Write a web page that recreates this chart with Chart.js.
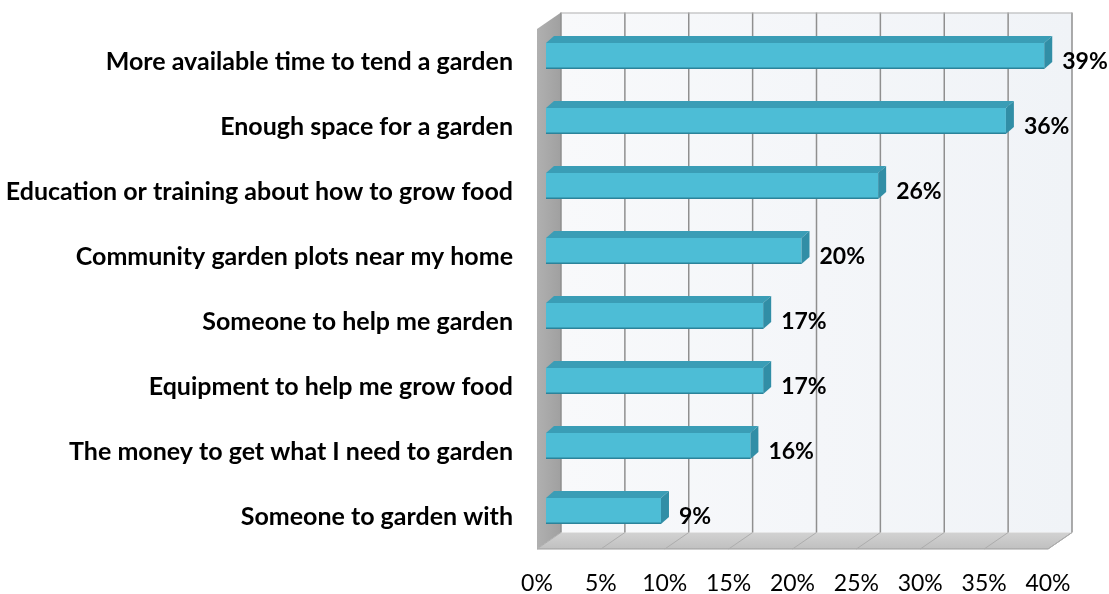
<!DOCTYPE html>
<html>
<head>
<meta charset="utf-8">
<script src="https://cdn.jsdelivr.net/npm/chart.js@4/dist/chart.umd.min.js"></script>
<style>
  html, body { margin: 0; padding: 0; background: #ffffff; }
  #wrap { width: 1109px; height: 594px; position: relative; }
</style>
</head>
<body>
<div id="wrap"><canvas id="chart"></canvas></div>
<script>
// What would help people grow their own food (share of respondents)
const categories = [
  "More available time to tend a garden",
  "Enough space for a garden",
  "Education or training about how to grow food",
  "Community garden plots near my home",
  "Someone to help me garden",
  "Equipment to help me grow food",
  "The money to get what I need to garden",
  "Someone to garden with"
];
const shares = [39, 36, 26, 20, 17, 17, 16, 9];
const axisMin = 0;
const axisMax = 40;
const axisStep = 5;

// 3D look: offsets for the back wall, the bar plane and the bar depth
const WALL_DEPTH = { x: 24, y: -16.5 };
const BAR_SHIFT = { x: 9, y: -5.5 };
const BAR_DEPTH = { x: 8, y: -7 };

const COLORS = {
  front: '#4dbdd6',
  top: '#3a9db6',
  side: '#318ea6',
  edge: '#2b839a'
};

const box3d = {
  id: 'box3d',
  beforeDatasetsDraw(chart) {
    const { ctx, chartArea: a, scales: { x } } = chart;
    const L = a.left, R = a.right, T = a.top, B = a.bottom;
    const dx = WALL_DEPTH.x, dy = WALL_DEPTH.y;
    ctx.save();

    // back wall
    let g = ctx.createLinearGradient(L + dx, 0, R + dx, 0);
    g.addColorStop(0, '#f8f9fb');
    g.addColorStop(1, '#f0f3f7');
    ctx.fillStyle = g;
    ctx.fillRect(L + dx, T + dy, R - L, B - T);

    // left side wall
    g = ctx.createLinearGradient(L, 0, L + dx, 0);
    g.addColorStop(0, '#b0b0b0');
    g.addColorStop(1, '#a0a0a0');
    ctx.fillStyle = g;
    ctx.beginPath();
    ctx.moveTo(L, T);
    ctx.lineTo(L + dx, T + dy);
    ctx.lineTo(L + dx, B + dy);
    ctx.lineTo(L, B);
    ctx.closePath();
    ctx.fill();

    // floor
    g = ctx.createLinearGradient(0, B + dy, 0, B);
    g.addColorStop(0, '#d2d2d2');
    g.addColorStop(1, '#c0c0c0');
    ctx.fillStyle = g;
    ctx.beginPath();
    ctx.moveTo(L, B);
    ctx.lineTo(L + dx, B + dy);
    ctx.lineTo(R + dx, B + dy);
    ctx.lineTo(R, B);
    ctx.closePath();
    ctx.fill();
    ctx.strokeStyle = '#9d9d9d';
    ctx.lineWidth = 1;
    ctx.beginPath();
    ctx.moveTo(L, B);
    ctx.lineTo(R, B);
    ctx.lineTo(R + dx, B + dy);
    ctx.stroke();

    // gridlines on the back wall and across the floor
    for (let v = axisMin; v <= axisMax; v += axisStep) {
      const px = x.getPixelForValue(v);
      ctx.strokeStyle = '#8f8f8f';
      ctx.lineWidth = 1.5;
      ctx.beginPath();
      ctx.moveTo(px + dx, T + dy);
      ctx.lineTo(px + dx, B + dy);
      ctx.stroke();
      ctx.strokeStyle = '#adadad';
      ctx.lineWidth = 1;
      ctx.beginPath();
      ctx.moveTo(px + dx, B + dy);
      ctx.lineTo(px, B);
      ctx.stroke();
    }
    // top edge of the back wall
    ctx.strokeStyle = '#b0b0b0';
    ctx.lineWidth = 1;
    ctx.beginPath();
    ctx.moveTo(L + dx, T + dy + 0.5);
    ctx.lineTo(R + dx, T + dy + 0.5);
    ctx.stroke();
    ctx.restore();

    // bars sit a little behind the front plane
    ctx.save();
    ctx.translate(BAR_SHIFT.x, BAR_SHIFT.y);
  },
  afterDatasetsDraw(chart) {
    const { ctx, scales: { y } } = chart;
    const meta = chart.getDatasetMeta(0);
    const bdx = BAR_DEPTH.x, bdy = BAR_DEPTH.y;
    meta.data.forEach((bar) => {
      const p = bar.getProps(['x', 'y', 'base', 'height'], true);
      const x0 = p.base, x1 = p.x;
      const y0 = p.y - p.height / 2, y1 = p.y + p.height / 2;
      // top face
      ctx.fillStyle = COLORS.top;
      ctx.beginPath();
      ctx.moveTo(x0, y0);
      ctx.lineTo(x0 + bdx, y0 + bdy);
      ctx.lineTo(x1 + bdx, y0 + bdy);
      ctx.lineTo(x1, y0);
      ctx.closePath();
      ctx.fill();
      // right end face
      ctx.fillStyle = COLORS.side;
      ctx.beginPath();
      ctx.moveTo(x1, y0);
      ctx.lineTo(x1 + bdx, y0 + bdy);
      ctx.lineTo(x1 + bdx, y1 + bdy);
      ctx.lineTo(x1, y1);
      ctx.closePath();
      ctx.fill();
      // lower edge of the front face
      ctx.strokeStyle = COLORS.edge;
      ctx.lineWidth = 1.5;
      ctx.beginPath();
      ctx.moveTo(x0, y1 - 0.75);
      ctx.lineTo(x1, y1 - 0.75);
      ctx.stroke();
    });
    ctx.restore();

    // value labels
    ctx.save();
    ctx.font = 'bold 23px Lato';
    ctx.fillStyle = '#000000';
    ctx.textAlign = 'left';
    ctx.textBaseline = 'middle';
    meta.data.forEach((bar, i) => {
      const yc = y.getPixelForValue(i);
      ctx.fillText(shares[i] + '%', bar.x + BAR_SHIFT.x + BAR_DEPTH.x + 10, yc);
    });
    ctx.restore();
  }
};

new Chart(document.getElementById('chart'), {
  type: 'bar',
  data: {
    labels: categories,
    datasets: [{
      data: shares,
      backgroundColor: COLORS.front,
      borderWidth: 0,
      barPercentage: 0.4,
      categoryPercentage: 1,
      clip: false
    }]
  },
  options: {
    indexAxis: 'y',
    responsive: true,
    maintainAspectRatio: false,
    animation: false,
    layout: { padding: { top: 29, right: 61, bottom: 0, left: 0 } },
    plugins: {
      legend: { display: false },
      tooltip: { enabled: false }
    },
    scales: {
      x: {
        min: axisMin,
        max: axisMax,
        grid: { display: false, drawTicks: false },
        border: { display: false },
        ticks: {
          stepSize: axisStep,
          padding: 21,
          color: '#000000',
          font: { family: 'Lato', size: 23 },
          callback: (v) => v + '%'
        },
        afterFit(scale) {
          scale.height = 45;
          scale.paddingLeft = 0;
          scale.paddingRight = 0;
        }
      },
      y: {
        grid: { display: false, drawTicks: false },
        border: { display: false },
        ticks: {
          padding: 24,
          color: '#000000',
          font: { family: 'Lato', size: 25, weight: 'bold' }
        },
        afterFit(scale) {
          scale.width = 537;
          scale.paddingTop = 0;
          scale.paddingBottom = 0;
        }
      }
    }
  },
  plugins: [box3d]
});
</script>
</body>
</html>
